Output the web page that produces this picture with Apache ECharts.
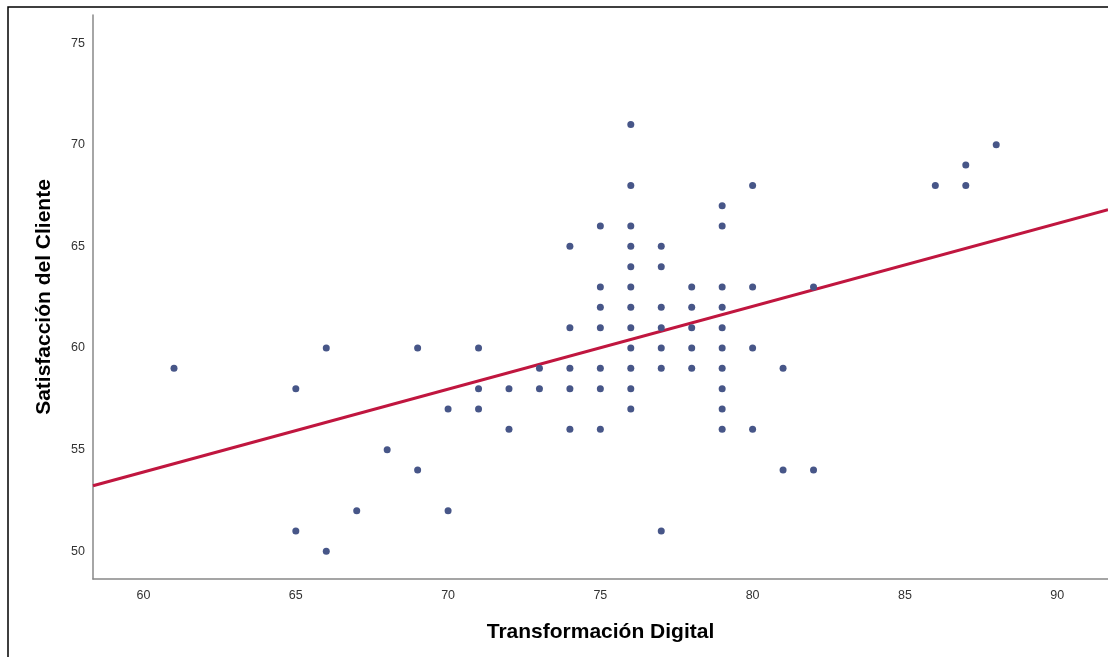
<!DOCTYPE html>
<html>
<head>
<meta charset="utf-8">
<script src="https://cdn.jsdelivr.net/npm/echarts@6/dist/echarts.min.js"></script>
<style>
html,body{margin:0;padding:0;background:#fff;}
#chart{width:1108px;height:657px;}
</style>
</head>
<body>
<div id="chart"></div>
<script>
// Transformación Digital (x) values, one entry per point, paired with Satisfacción del Cliente (y)
const xValues = [
  61,
  65,65,
  66,66,
  67,
  68,
  69,69,
  70,70,
  71,71,71,
  72,72,
  73,73,
  74,74,74,74,74,
  75,75,75,75,75,75,75,
  76,76,76,76,76,76,76,76,76,76,76,76,
  77,77,77,77,77,77,77,
  78,78,78,78,78,
  79,79,79,79,79,79,79,79,79,79,
  80,80,80,80,
  81,81,
  82,82,
  86,
  87,87,
  88
];
const yValues = [
  59,
  58,51,
  60,50,
  52,
  55,
  60,54,
  57,52,
  60,58,57,
  58,56,
  59,58,
  65,61,59,58,56,
  66,63,62,61,59,58,56,
  71,68,66,65,64,63,62,61,60,59,58,57,
  65,64,62,61,60,59,51,
  63,62,61,60,59,
  67,66,63,62,61,60,59,58,57,56,
  68,63,60,56,
  59,54,
  63,54,
  68,
  69,68,
  70
];
const xTicks = [60, 65, 70, 75, 80, 85, 90];
const yTicks = [50, 55, 60, 65, 70, 75];
// Fit line: y = intercept + slope * x
const fitIntercept = 29.45;
const fitSlope = 0.4075;

const X_MIN = 58.34, X_MAX = 91.67;
const Y_MIN = 48.64, Y_MAX = 76.38;

const points = xValues.map((x, i) => [x, yValues[i]]);
const fitData = [
  [X_MIN, fitIntercept + fitSlope * X_MIN],
  [X_MAX, fitIntercept + fitSlope * X_MAX]
];

const chart = echarts.init(document.getElementById('chart'), null, {renderer: 'canvas'});
chart.setOption({
  backgroundColor: '#ffffff',
  animation: false,
  graphic: [{
    type: 'rect',
    shape: {x: 8, y: 7, width: 1200, height: 700},
    style: {fill: 'none', stroke: '#000', lineWidth: 1.5},
    silent: true,
    z: 100
  }],
  grid: {left: 93, right: 0, top: 15, bottom: 78, containLabel: false},
  xAxis: {
    type: 'value',
    min: X_MIN, max: X_MAX,
    name: 'Transformación Digital',
    nameLocation: 'middle',
    nameGap: 43,
    nameTextStyle: {fontFamily: 'Liberation Sans, Arial, sans-serif', fontSize: 21, fontWeight: 'bold', color: '#000'},
    axisLine: {show: true, lineStyle: {color: '#888', width: 1.5}},
    axisTick: {show: false},
    splitLine: {show: false},
    axisLabel: {
      customValues: xTicks,
      margin: 10,
      fontFamily: 'Liberation Sans, Arial, sans-serif',
      fontSize: 12.5, color: '#333'
    }
  },
  yAxis: {
    type: 'value',
    min: Y_MIN, max: Y_MAX,
    name: 'Satisfacción del Cliente',
    nameLocation: 'middle',
    nameGap: 38,
    nameRotate: 90,
    nameTextStyle: {fontFamily: 'Liberation Sans, Arial, sans-serif', fontSize: 21, fontWeight: 'bold', color: '#000'},
    axisLine: {show: true, lineStyle: {color: '#888', width: 1.5}},
    axisTick: {show: false},
    splitLine: {show: false},
    axisLabel: {
      customValues: yTicks,
      margin: 8,
      padding: [4, 0, 0, 0],
      fontFamily: 'Liberation Sans, Arial, sans-serif',
      fontSize: 12.5, color: '#333'
    }
  },
  series: [
    {
      type: 'line',
      data: fitData,
      showSymbol: false,
      symbol: 'none',
      lineStyle: {color: '#c0163f', width: 3},
      z: 2
    },
    {
      type: 'scatter',
      data: points,
      symbol: 'circle',
      symbolSize: 7,
      itemStyle: {color: '#475688', opacity: 1},
      z: 3
    }
  ]
});
</script>
</body>
</html>
